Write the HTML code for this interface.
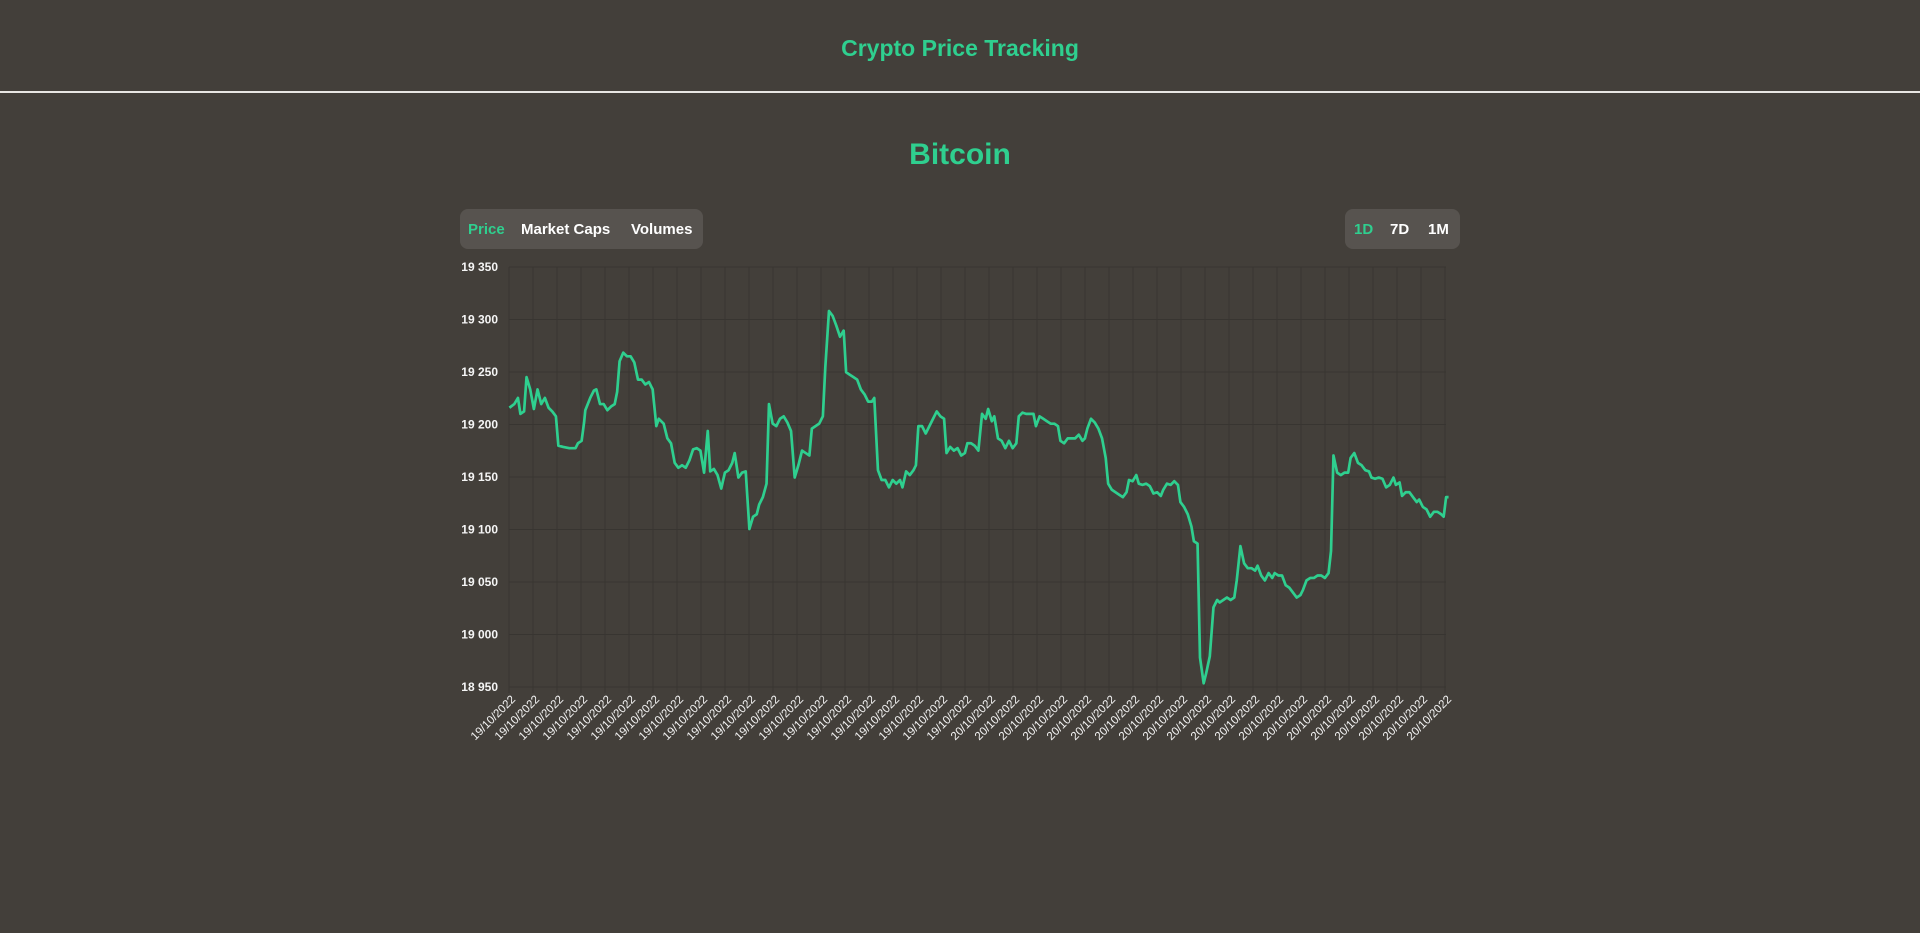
<!DOCTYPE html>
<html><head><meta charset="utf-8"><style>
html,body{margin:0;padding:0;width:1920px;height:933px;background:#433f3a;overflow:hidden;font-family:"Liberation Sans",sans-serif}
.h{position:absolute;left:0;width:1920px;text-align:center;color:#2fcf8f;font-weight:bold}
.btns{position:absolute;top:209px;height:40px;background:#57534f;border-radius:8px;font-weight:bold;font-size:15px;color:#fff;line-height:42px}
.btns span{position:absolute;white-space:nowrap}
</style></head><body>
<div class="h" style="top:32px;font-size:23px;line-height:32px">Crypto Price Tracking</div>
<div style="position:absolute;left:0;top:91px;width:1920px;height:2px;background:#e8e6e3"></div>
<div class="h" style="top:137px;font-size:30px;line-height:36px">Bitcoin</div>
<div class="btns" style="left:460px;width:243px"><span style="left:8px;color:#2fcf8f">Price</span><span style="left:61px">Market Caps</span><span style="left:171px">Volumes</span></div>
<div class="btns" style="left:1345px;width:115px"><span style="left:9px;color:#2fcf8f">1D</span><span style="left:45px">7D</span><span style="left:83px">1M</span></div>
<svg width="1920" height="933" style="position:absolute;left:0;top:0">
<g id="grid" stroke="#383531" stroke-width="1"></g>
<g id="yl" fill="#f5f5f5" font-size="12" font-weight="bold" text-anchor="end"></g>
<g id="xl" fill="#f5f5f5" font-size="11.5" text-anchor="end"></g>
<g transform="scale(1.22449)"><polyline fill="none" stroke="#2fcf8f" stroke-width="2.2" stroke-linejoin="round" points="416,333 420,330 423,325 425,338 428,336 430,308 433,318 436,334 439,318 442,330 445,325 448,333 451,336 454,340 456,364 460,365 465,366 470,366 472,362 475,360 477,345 478,335 482,325 485,319 487,318 490,330 493,330 496,335 499,332 502,330 504,320 506,295 509,288 512,291 515,291 518,296 521,310 524,310 527,314 530,312 533,318 536,348 538,342 542,346 545,358 548,362 551,378 554,382 557,380 560,382 563,376 566,367 569,366 572,368 575,386 578,352 580,385 583,383 586,388 589,399 592,386 595,384 598,378 600,370 603,390 606,386 609,385 612,432 615,422 618,420 620,412 623,406 626,395 628,330 631,346 634,348 637,342 640,340 643,345 646,352 649,390 652,380 655,368 658,370 661,372 663,350 666,348 669,346 672,340 674,300 677,254 680,258 683,266 686,275 689,270 691,304 694,306 697,308 700,310 703,318 706,322 709,328 712,328 714,325 717,384 720,392 723,392 726,398 729,392 732,395 735,392 737,398 740,385 743,388 746,384 748,380 750,348 753,348 756,354 759,348 762,342 765,336 768,340 771,342 773,370 776,365 779,368 782,366 785,372 788,370 790,362 793,362 796,364 799,368 802,338 805,342 807,334 810,344 812,340 815,358 818,360 821,366 824,360 827,366 830,362 832,340 835,337 838,338 841,338 844,338 846,348 849,340 852,342 855,344 858,346 861,346 864,348 866,360 869,362 872,358 875,358 878,358 881,355 884,360 886,358 888,350 891,342 894,345 897,350 900,358 903,374 905,395 908,400 911,402 914,404 917,406 920,402 922,392 925,393 928,388 930,395 933,396 936,395 939,397 942,403 945,402 948,405 950,400 953,395 956,396 959,393 962,396 964,410 967,414 970,420 973,430 975,442 978,444 980,537 983,558 985,550 988,536 991,496 994,490 996,492 999,490 1002,488 1005,490 1008,488 1010,474 1013,446 1016,460 1019,464 1022,464 1025,466 1027,462 1030,470 1033,474 1036,468 1039,472 1041,468 1044,470 1047,470 1050,478 1053,480 1056,484 1059,488 1062,486 1064,482 1067,474 1070,472 1073,472 1076,470 1079,470 1082,472 1085,468 1087,450 1089,372 1092,386 1095,388 1098,386 1101,386 1103,374 1106,370 1109,378 1112,380 1115,384 1118,385 1120,390 1123,391 1126,390 1129,391 1132,398 1135,396 1138,390 1140,396 1143,394 1145,405 1148,402 1151,402 1154,406 1157,410 1159,408 1162,414 1165,416 1168,422 1171,418 1174,418 1177,420 1179,422 1181,406 1183,406"/></g>
</svg>
<script>
var ns="http://www.w3.org/2000/svg",g=document.getElementById('grid'),yl=document.getElementById('yl'),xl=document.getElementById('xl');
function el(p,t,a){var e=document.createElementNS(ns,t);for(var k in a)e.setAttribute(k,a[k]);p.appendChild(e);return e}
var labs=["19 350","19 300","19 250","19 200","19 150","19 100","19 050","19 000","18 950"];
for(var i=0;i<9;i++){var y=267+i*52.5;el(g,'line',{x1:509,x2:1446,y1:y,y2:y});var t=el(yl,'text',{x:498,y:y+4});t.textContent=labs[i];}
for(var j=0;j<40;j++){var x=509+j*24;el(g,'line',{x1:x,x2:x,y1:267,y2:693});var t=el(xl,'text',{x:0,y:0,transform:'translate('+(x+7)+',700) rotate(-45)'});t.textContent=j<20?"19/10/2022":"20/10/2022";}
</script>
</body></html>
